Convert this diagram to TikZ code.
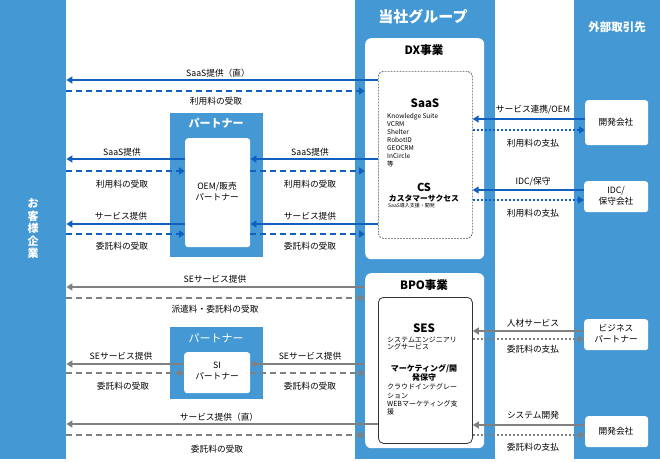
\documentclass[tikz,border=0pt]{standalone}
\usepackage{fontspec}
\setmainfont{Noto Sans CJK JP}
\usetikzlibrary{arrows.meta}
\definecolor{colblue}{HTML}{4499D5}
\definecolor{arrblue}{HTML}{1060C0}
\definecolor{arrgray}{HTML}{808080}
\newcommand{\fsz}[2]{\fontsize{#1}{#2}\selectfont}
\begin{document}
\begin{tikzpicture}[x=1pt,y=-1pt,
  col/.style={fill=colblue, draw=none, inner sep=0pt, anchor=north west},
  wbox/.style={fill=white, draw=none, rounded corners=6pt, inner sep=0pt, anchor=north west},
  ibox/.style={fill=white, draw=none, rounded corners=3pt, inner sep=0pt, anchor=north west},
  lbl/.style={font=\fsz{8.7}{10}, inner sep=0pt},
  boxtxt/.style={font=\fsz{8.7}{11}, align=center, inner sep=0pt},
  sol/.style={draw=arrblue, line width=1.9pt, -{Triangle[length=6pt,width=7pt]}},
  bdsh/.style={sol, dash pattern=on 6pt off 4pt},
  bdot/.style={sol, dash pattern=on 2pt off 2pt},
  gsol/.style={sol, draw=arrgray},
  gdsh/.style={bdsh, draw=arrgray},
  gdot/.style={bdot, draw=arrgray},
]
\useasboundingbox (0,0) rectangle (660,461);
\fill[white] (0,0) rectangle (660,461);
% columns
\node[col, minimum width=66pt, minimum height=459pt] (cust) at (0,0) {};
\node[col, minimum width=140pt, minimum height=459pt] (grp) at (355,0) {};
\node[col, minimum width=86pt, minimum height=459pt] (ext) at (574,0) {};
\node[text=white, font=\bfseries\fsz{11}{12.5}, align=center, inner sep=0pt] (custt) at (33,229) {お\\客\\様\\企\\業};
\node[text=white, font=\bfseries\fsz{15}{15}, inner sep=0pt] (grpt) at (423,17) {当社グループ};
\node[text=white, font=\bfseries\fsz{11.5}{12}, inner sep=0pt] (extt) at (617,27) {外部取引先};
% DX
\node[wbox, minimum width=119pt, minimum height=221pt] (dx) at (365,38) {};
\node[font=\bfseries\fsz{11.5}{12}, inner sep=0pt] (dxt) at (424,50) {DX事業};
\node[draw=black!70, line width=0.7pt, dash pattern=on 1.8pt off 1.2pt, fill=white, rounded corners=5pt, inner sep=0pt, anchor=north west, minimum width=94pt, minimum height=167pt] (saas) at (378,71) {};
\node[font=\bfseries\fsz{11.5}{12}, inner sep=0pt] (saast) at (425,103) {SaaS};
\node[font=\fsz{6.5}{8}, align=left, anchor=west, inner sep=0pt] (saasl) at (387,140) {Knowledge Suite\\VCRM\\Shelter\\RobotID\\GEOCRM\\InCircle\\等};
\node[font=\bfseries\fsz{11}{12}, inner sep=0pt] (cst) at (424,187) {CS};
\node[font=\bfseries\fsz{7.8}{8}, inner sep=0pt] (csj) at (424,198) {カスタマーサクセス};
\node[font=\fsz{5}{6}, anchor=west, inner sep=0pt] (css) at (388,206) {SaaS導入支援・開発};
% BPO
\node[wbox, minimum width=119pt, minimum height=175pt] (bpo) at (365,273) {};
\node[font=\bfseries\fsz{11.5}{12}, inner sep=0pt] (bpot) at (424,285) {BPO事業};
\node[draw=black!80, line width=0.8pt, fill=white, rounded corners=5pt, inner sep=0pt, anchor=north west, minimum width=94pt, minimum height=146pt] (ses) at (378,297) {};
\node[font=\bfseries\fsz{11.5}{12}, inner sep=0pt] (sest) at (424,328) {SES};
\node[font=\fsz{7}{7.5}, align=left, anchor=west, inner sep=0pt] (sesl) at (387,343.5) {システムエンジニアリ\\ングサービス};
\node[font=\bfseries\fsz{8}{8.5}, align=center, inner sep=0pt] (mkt) at (424,373) {マーケティング/開\\発保守};
\node[font=\fsz{7}{8.3}, align=left, anchor=west, inner sep=0pt] (mktl) at (387,399.5) {クラウドインテグレー\\ション\\WEBマーケティング支\\援};
% partners
\node[col, minimum width=93pt, minimum height=144pt] (p1) at (170,113) {};
\node[text=white, font=\bfseries\fsz{11}{12}, inner sep=0pt] (p1t) at (216,123) {パートナー};
\node[ibox, minimum width=65pt, minimum height=109pt] (p1in) at (185,138) {};
\node[boxtxt] (p1txt) at (217,192) {OEM/販売\\パートナー};
\node[col, minimum width=93pt, minimum height=72pt] (p2) at (170,327) {};
\node[text=white, font=\fsz{11}{12}, inner sep=0pt] (p2t) at (216,338) {パートナー};
\node[ibox, minimum width=66pt, minimum height=41pt] (p2in) at (184,352) {};
\node[boxtxt] (p2txt) at (217,371) {SI\\パートナー};
% external boxes
\node[ibox, minimum width=63pt, minimum height=45pt] (dev1) at (585,100) {};
\node[boxtxt] (dev1t) at (616,122) {開発会社};
\node[ibox, minimum width=64pt, minimum height=31pt] (idc) at (584,181) {};
\node[boxtxt] (idct) at (616,196) {IDC/\\保守会社};
\node[ibox, minimum width=64pt, minimum height=31pt] (biz) at (584,319) {};
\node[boxtxt] (bizt) at (616,334) {ビジネス\\パートナー};
\node[ibox, minimum width=63pt, minimum height=31pt] (dev2) at (585,416) {};
\node[boxtxt] (dev2t) at (616,431) {開発会社};
% DX arrows
\draw[sol] (saas.west |- 0,80) -- (cust.east |- 0,80);
\draw[bdsh] (cust.east |- 0,91) -- (dx.west |- 0,91);
\draw[sol] (p1in.west |- 0,159) -- (cust.east |- 0,159);
\draw[bdsh] (cust.east |- 0,171) -- (p1in.west |- 0,171);
\draw[sol] (saas.west |- 0,159) -- (p1in.east |- 0,159);
\draw[bdsh] (p1in.east |- 0,171) -- (dx.west |- 0,171);
\draw[sol] (p1in.west |- 0,224) -- (cust.east |- 0,224);
\draw[bdsh] (cust.east |- 0,234) -- (p1in.west |- 0,234);
\draw[sol] (saas.west |- 0,224) -- (p1in.east |- 0,224);
\draw[bdsh] (p1in.east |- 0,234) -- (dx.west |- 0,234);
\draw[sol] (dev1.west |- 0,119) -- (saas.east |- 0,119);
\draw[bdot] (saas.east |- 0,130) -- (dev1.west |- 0,130);
\draw[sol] (idc.west |- 0,190) -- (saas.east |- 0,190);
\draw[bdot] (saas.east |- 0,200) -- (idc.west |- 0,200);
% BPO arrows
\draw[gsol] (bpo.west |- 0,287) -- (cust.east |- 0,287);
\draw[gdsh] (cust.east |- 0,298) -- (bpo.west |- 0,298);
\draw[gsol] (p2in.west |- 0,364) -- (cust.east |- 0,364);
\draw[gdsh] (cust.east |- 0,373) -- (p2in.west |- 0,373);
\draw[gsol] (bpo.west |- 0,364) -- (p2in.east |- 0,364);
\draw[gdsh] (p2in.east |- 0,373) -- (bpo.west |- 0,373);
\draw[gsol] (ses.west |- 0,424) -- (cust.east |- 0,424);
\draw[gdsh] (cust.east |- 0,435) -- (bpo.west |- 0,435);
\draw[gsol] (biz.west |- 0,331) -- (ses.east |- 0,331);
\draw[gdot] (ses.east |- 0,339) -- (biz.west |- 0,339);
\draw[gsol] (dev2.west |- 0,425) -- (ses.east |- 0,425);
\draw[gdot] (ses.east |- 0,435) -- (dev2.west |- 0,435);
% labels
\node[lbl] (l1) at (218,73) {SaaS提供（直）};
\node[lbl] (l2) at (216,101) {利用料の受取};
\node[lbl] (l3) at (122,152) {SaaS提供};
\node[lbl] (l4) at (122,184) {利用料の受取};
\node[lbl] (l5) at (121,216) {サービス提供};
\node[lbl] (l6) at (122,246) {委託料の受取};
\node[lbl] (l7) at (310,152) {SaaS提供};
\node[lbl] (l8) at (310,184) {利用料の受取};
\node[lbl] (l9) at (310,216) {サービス提供};
\node[lbl] (l10) at (310,246) {委託料の受取};
\node[lbl] (l11) at (533,110) {サービス連携/OEM};
\node[lbl] (l12) at (533,143) {利用料の支払};
\node[lbl] (l13) at (533,182) {IDC/保守};
\node[lbl] (l14) at (533,213) {利用料の支払};
\node[lbl] (l15) at (215,279) {SEサービス提供};
\node[lbl] (l16) at (215,309) {派遣料・委託料の受取};
\node[lbl] (l17) at (121,356) {SEサービス提供};
\node[lbl] (l18) at (123,386) {委託料の受取};
\node[lbl] (l19) at (310,356) {SEサービス提供};
\node[lbl] (l20) at (310,386) {委託料の受取};
\node[lbl] (l21) at (219,417) {サービス提供（直）};
\node[lbl] (l22) at (217,449) {委託料の受取};
\node[lbl] (l23) at (533,323) {人材サービス};
\node[lbl] (l24) at (533,349) {委託料の支払};
\node[lbl] (l25) at (533,415) {システム開発};
\node[lbl] (l26) at (533,447) {委託料の支払};
\end{tikzpicture}
\end{document}
